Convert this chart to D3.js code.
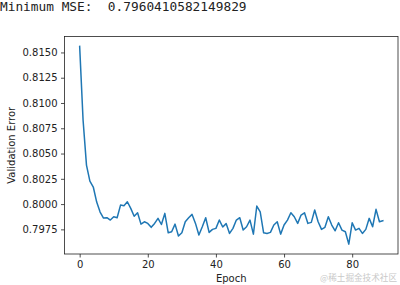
<!DOCTYPE html>
<html>
<head>
<meta charset="utf-8">
<script src="https://cdn.jsdelivr.net/npm/d3@7/dist/d3.min.js"></script>
<style>
  html, body { margin: 0; padding: 0; background: #fff; }
  svg { display: block; }
</style>
</head>
<body>
<div id="chart"></div>
<script>
// validation error per epoch
const epochs = d3.range(0, 90);
const valError = [
  0.81560, 0.80832, 0.80386, 0.80228, 0.80169, 0.80020, 0.79921, 0.79862, 0.79865, 0.79842,
  0.79875, 0.79865, 0.79990, 0.79984, 0.80023, 0.79958, 0.79879, 0.79914, 0.79802, 0.79825,
  0.79809, 0.79770, 0.79809, 0.79859, 0.79798, 0.79908, 0.79716, 0.79726, 0.79802, 0.79684,
  0.79716, 0.79825, 0.79865, 0.79898, 0.79809, 0.79694, 0.79776, 0.79865, 0.79720, 0.79750,
  0.79760, 0.79842, 0.79773, 0.79807, 0.79710, 0.79760, 0.79842, 0.79865, 0.79743, 0.79776,
  0.79842, 0.79703, 0.79981, 0.79924, 0.79716, 0.79710, 0.79720, 0.79793, 0.79825, 0.79703,
  0.79793, 0.79842, 0.79914, 0.79875, 0.79809, 0.79892, 0.79914, 0.79809, 0.79819, 0.79941,
  0.79825, 0.79750, 0.79770, 0.79875, 0.79793, 0.79736, 0.79815, 0.79743, 0.79726, 0.7960410582149829,
  0.79815, 0.79743, 0.79760, 0.79710, 0.79750, 0.79859, 0.79776, 0.79948, 0.79825, 0.79835
];
const xTicks = [0, 20, 40, 60, 80];
const yTicks = [0.7975, 0.8000, 0.8025, 0.8050, 0.8075, 0.8100, 0.8125, 0.8150];
const minMse = "0.7960410582149829";

const W = 400, H = 285;
const box = { left: 64.5, right: 398, top: 36.5, bottom: 254 };

const svg = d3.select("#chart").append("svg")
  .attr("width", W)
  .attr("height", H);

// printed output above the figure
svg.append("text")
  .attr("x", 0)
  .attr("y", 10.5)
  .style("font-family", "'DejaVu Sans Mono', monospace")
  .style("font-size", "12.8px")
  .style("fill", "#222")
  .style("white-space", "pre")
  .text("Minimum MSE:  " + minMse);

// matplotlib-like 5% margins
const xMin = d3.min(epochs), xMax = d3.max(epochs);
const xPad = (xMax - xMin) * 0.05;
const yMin = d3.min(valError), yMax = d3.max(valError);
const yPad = (yMax - yMin) * 0.05;

const x = d3.scaleLinear()
  .domain([xMin - xPad, xMax + xPad])
  .range([box.left, box.right]);

const y = d3.scaleLinear()
  .domain([yMin - yPad, yMax + yPad])
  .range([box.bottom, box.top]);

const tickFont = "'DejaVu Sans', sans-serif";

// x axis
const xAxis = svg.append("g")
  .attr("transform", `translate(0,${box.bottom})`)
  .call(d3.axisBottom(x).tickValues(xTicks).tickSize(3.5).tickPadding(3.5).tickSizeOuter(0));
xAxis.select(".domain").remove();
xAxis.selectAll("line").attr("stroke", "#222").attr("stroke-width", 0.8);
xAxis.selectAll("text")
  .style("font-family", tickFont)
  .style("font-size", "10px")
  .attr("fill", "#222");

// y axis
const yAxis = svg.append("g")
  .attr("transform", `translate(${box.left},0)`)
  .call(d3.axisLeft(y).tickValues(yTicks).tickFormat(d3.format(".4f")).tickSize(3.5).tickPadding(3.5).tickSizeOuter(0));
yAxis.select(".domain").remove();
yAxis.selectAll("line").attr("stroke", "#222").attr("stroke-width", 0.8);
yAxis.selectAll("text")
  .style("font-family", tickFont)
  .style("font-size", "10px")
  .attr("fill", "#222");

// the curve
const line = d3.line()
  .x((d, i) => x(epochs[i]))
  .y(d => y(d));

svg.append("path")
  .datum(valError)
  .attr("fill", "none")
  .attr("stroke", "#1f77b4")
  .attr("stroke-width", 1.5)
  .attr("stroke-linejoin", "round")
  .attr("stroke-linecap", "square")
  .attr("d", line);

// frame
svg.append("rect")
  .attr("x", box.left)
  .attr("y", box.top)
  .attr("width", box.right - box.left)
  .attr("height", box.bottom - box.top)
  .attr("fill", "none")
  .attr("stroke", "#222")
  .attr("stroke-width", 0.8);

// axis labels
svg.append("text")
  .attr("x", (box.left + box.right) / 2)
  .attr("y", 281.6)
  .attr("text-anchor", "middle")
  .style("font-family", tickFont)
  .style("font-size", "10px")
  .style("fill", "#222")
  .text("Epoch");

svg.append("text")
  .attr("transform", `translate(14.5,${(box.top + box.bottom) / 2}) rotate(-90)`)
  .attr("text-anchor", "middle")
  .style("font-family", tickFont)
  .style("font-size", "10px")
  .style("fill", "#222")
  .text("Validation Error");

// watermark in the corner
svg.append("text")
  .attr("x", 397)
  .attr("y", 281)
  .attr("text-anchor", "end")
  .style("font-family", "'Noto Sans CJK SC', sans-serif")
  .style("font-size", "8.6px")
  .style("fill", "#c9c9c9")
  .text("@稀土掘金技术社区");
</script>
</body>
</html>
